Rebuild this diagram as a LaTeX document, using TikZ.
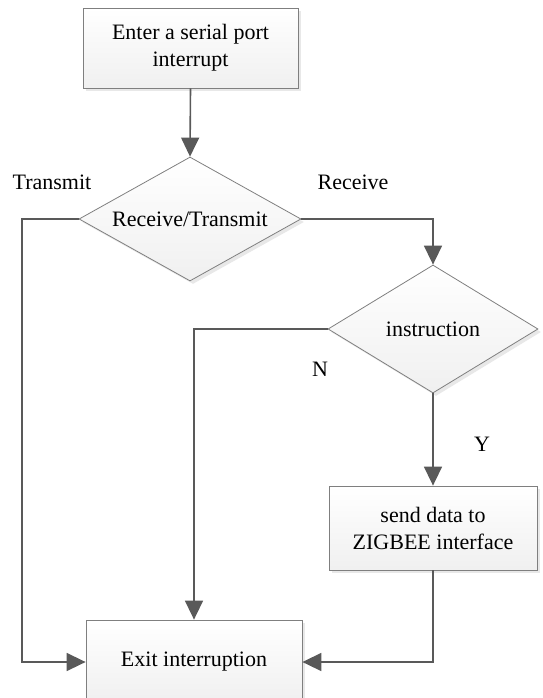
\documentclass[tikz,border=0pt]{standalone}
\usepackage{fontspec}
\setmainfont{Liberation Serif}
\usetikzlibrary{shapes.geometric,arrows.meta,shadows}

\definecolor{linegray}{HTML}{595959}
\definecolor{edgegray}{HTML}{7F7F7F}

\begin{document}
\begin{tikzpicture}[x=1pt, y=-1pt,
  font=\fontsize{22}{27}\selectfont,
  procbox/.style={rectangle, draw=edgegray, line width=0.8pt,
    top color=white, bottom color=gray!12, align=center, inner sep=0pt,
    drop shadow={opacity=0.18, shadow xshift=3pt, shadow yshift=-3pt}},
  decide/.style={diamond, draw=edgegray, line width=0.8pt,
    top color=white, bottom color=gray!12, inner sep=0pt,
    drop shadow={opacity=0.18, shadow xshift=3pt, shadow yshift=-3pt}},
  flow/.style={draw=linegray, line width=1.6pt,
    -{Triangle[length=19pt, width=18pt]}},
  lbl/.style={inner sep=0pt}]
  \useasboundingbox (0,0) rectangle (542,698);

  % blocks
  \node[procbox, minimum width=215, minimum height=80] (enter) at (190.5,48)
    {Enter a serial port\\interrupt};
  \node[decide, minimum width=222, minimum height=124, shape aspect=1.79] (rxtx) at (190,219)
    {Receive/Transmit};
  \node[decide, minimum width=210, minimum height=128, shape aspect=1.64] (instr) at (433,329)
    {instruction};
  \node[procbox, minimum width=208, minimum height=84] (send) at (433,528)
    {send data to\\ZIGBEE interface};
  \node[procbox, minimum width=216, minimum height=84] (exit) at (194,662)
    {Exit interruption};

  % labels
  \node[lbl] (ltx) at (52,182) {Transmit};
  \node[lbl] (lrx) at (353,182) {Receive};
  \node[lbl] (lno) at (320,369) {N};
  \node[lbl] (lyes) at (482,444) {Y};

  % connectors
  \coordinate (txturn) at (22,219);
  \draw[flow] (enter.south) -- (rxtx.north);
  \draw[flow] (rxtx.west) -- (txturn) |- (exit.west);
  \draw[flow] (rxtx.east) -| (instr.north);
  \draw[flow] (instr.west) -| (exit.north);
  \draw[flow] (instr.south) -- (send.north);
  \draw[flow] (send.south) |- (exit.east);
\end{tikzpicture}
\end{document}
